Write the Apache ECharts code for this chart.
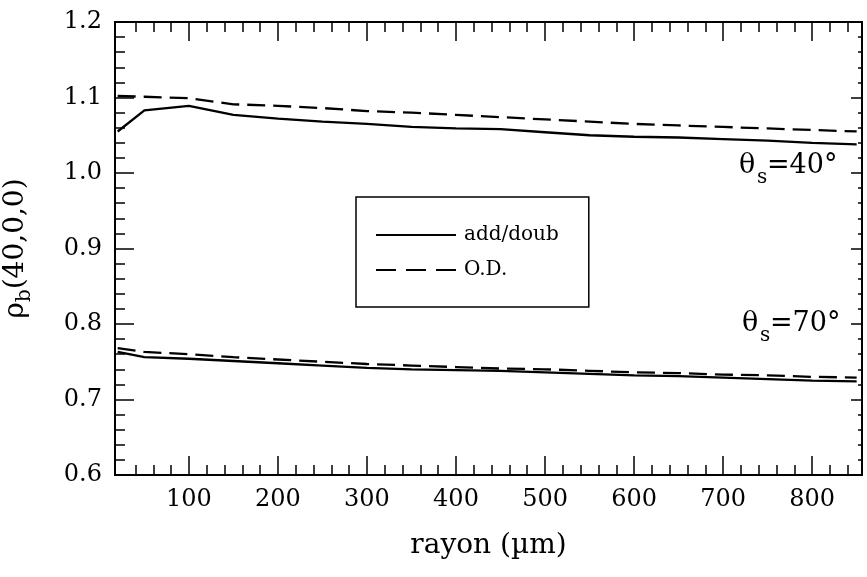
<!DOCTYPE html>
<html>
<head>
<meta charset="utf-8">
<script src="https://cdn.jsdelivr.net/npm/echarts@6/dist/echarts.min.js"></script>
<style>html,body{margin:0;padding:0;background:#fff}#c{width:867px;height:577px}</style>
</head>
<body>
<div id="c"></div>
<script>
// ---- data ----
var radius = [20, 50, 100, 150, 200, 250, 300, 350, 400, 450, 500, 550, 600, 650, 700, 750, 800, 850];
var addDoub40 = [1.055, 1.083, 1.089, 1.077, 1.072, 1.068, 1.065, 1.061, 1.059, 1.058, 1.054, 1.050, 1.048, 1.047, 1.045, 1.043, 1.040, 1.038];
var od40      = [1.102, 1.101, 1.099, 1.091, 1.089, 1.086, 1.082, 1.080, 1.077, 1.074, 1.071, 1.068, 1.065, 1.063, 1.061, 1.059, 1.057, 1.055];
var addDoub70 = [0.763, 0.756, 0.754, 0.751, 0.748, 0.745, 0.742, 0.740, 0.739, 0.738, 0.736, 0.734, 0.732, 0.731, 0.729, 0.727, 0.725, 0.724];
var od70      = [0.768, 0.763, 0.760, 0.756, 0.753, 0.750, 0.747, 0.745, 0.743, 0.741, 0.740, 0.738, 0.736, 0.735, 0.733, 0.732, 0.730, 0.729];
var xMajorTicks = [100, 200, 300, 400, 500, 600, 700, 800];
var xMinorTicks = [40, 60, 80, 120, 140, 160, 180, 220, 240, 260, 280, 320, 340, 360, 380, 420, 440, 460, 480,
                   520, 540, 560, 580, 620, 640, 660, 680, 720, 740, 760, 780, 820, 840];
var xMin = 17, xMax = 856;
var yMin = 0.6, yMax = 1.2, yStep = 0.1;
var nameAdd = 'add/doub', nameOD = 'O.D.';
var angleLabels = ['=40°', '=70°'];

function zip(xs, ys) { return xs.map(function (x, i) { return [x, ys[i]]; }); }

var FONT = 'DejaVu Serif';
var black = '#000';
var tickStyle = { color: black, width: 1.5 };
var lineW = 2.3;
var dash = [18, 8];

function xAx(pos, ticks, len, labels, extra) {
  var a = {
    type: 'value', position: pos, min: xMin, max: xMax,
    axisLine: { show: true, onZero: false, lineStyle: { color: black, width: 2 } },
    axisTick: { show: true, inside: true, length: len, customValues: ticks, lineStyle: tickStyle },
    axisLabel: labels ? { show: true, customValues: ticks, margin: 13, color: black, fontFamily: FONT, fontSize: 24 } : { show: false },
    splitLine: { show: false }
  };
  if (extra) for (var k in extra) a[k] = extra[k];
  return a;
}

var chart = echarts.init(document.getElementById('c'), null, { renderer: 'canvas' });
chart.setOption({
  animation: false,
  backgroundColor: '#fff',
  grid: { left: 115, right: 5, top: 22, bottom: 102, containLabel: false, outerBoundsMode: 'none' },
  xAxis: [
    xAx('bottom', xMajorTicks, 19, true, {
      name: 'rayon (µm)', nameLocation: 'middle', nameGap: 57,
      nameTextStyle: { color: black, fontFamily: FONT, fontSize: 28 }
    }),
    xAx('bottom', xMinorTicks, 10, false),
    xAx('top', xMajorTicks, 19, false),
    xAx('top', xMinorTicks, 10, false)
  ],
  yAxis: [
    {
      type: 'value', position: 'left', min: yMin, max: yMax, interval: yStep,
      axisLine: { show: true, onZero: false, lineStyle: { color: black, width: 2 } },
      axisTick: { show: true, inside: true, length: 19, lineStyle: tickStyle },
      minorTick: { show: true, splitNumber: 5, length: 10, lineStyle: tickStyle },
      axisLabel: { margin: 13, color: black, fontFamily: FONT, fontSize: 24, formatter: function (v) { return v.toFixed(1); } },
      splitLine: { show: false },
      name: '{a|ρ}{b|b}{a|(40,0,0)}', nameLocation: 'middle', nameRotate: 90, nameGap: 80,
      nameTextStyle: {
        color: black, fontFamily: FONT, fontSize: 28,
        rich: {
          a: { fontFamily: FONT, fontSize: 28, color: black, lineHeight: 38, verticalAlign: 'middle' },
          b: { fontFamily: FONT, fontSize: 20, color: black, lineHeight: 38, verticalAlign: 'bottom' }
        }
      }
    },
    {
      type: 'value', position: 'right', min: yMin, max: yMax, interval: yStep,
      axisLine: { show: true, onZero: false, lineStyle: { color: black, width: 2 } },
      axisTick: { show: true, inside: true, length: 11, lineStyle: tickStyle },
      minorTick: { show: true, splitNumber: 5, length: 4, lineStyle: tickStyle },
      axisLabel: { show: false },
      splitLine: { show: false }
    }
  ],
  legend: {
    show: true,
    orient: 'vertical', left: 356, top: 197,
    data: [{ name: nameAdd }, { name: nameOD, lineStyle: { type: [20, 10] } }],
    itemWidth: 80, itemHeight: 20, itemGap: 15,
    padding: [28, 30, 27, 19],
    borderColor: black, borderWidth: 1.5, borderRadius: 0,
    itemStyle: { opacity: 0 },
    textStyle: { color: black, fontFamily: FONT, fontSize: 20, padding: [0, 0, 0, 3] },
    selectedMode: false
  },
  series: [
    { name: nameAdd, type: 'line', data: zip(radius, addDoub40), symbol: 'none', lineStyle: { color: black, width: lineW }, itemStyle: { color: black } },
    { name: nameOD, type: 'line', data: zip(radius, od40), symbol: 'none', lineStyle: { color: black, width: lineW, type: dash }, itemStyle: { color: black } },
    { name: nameAdd, type: 'line', data: zip(radius, addDoub70), symbol: 'none', lineStyle: { color: black, width: lineW }, itemStyle: { color: black } },
    { name: nameOD, type: 'line', data: zip(radius, od70), symbol: 'none', lineStyle: { color: black, width: lineW, type: dash }, itemStyle: { color: black } }
  ],
  graphic: [
    { type: 'text', left: 739, top: 152, style: { text: 'θ', font: '27px "DejaVu Serif"', fill: black } },
    { type: 'text', left: 757, top: 168, style: { text: 's', font: '20px "DejaVu Serif"', fill: black } },
    { type: 'text', left: 767, top: 152, style: { text: angleLabels[0], font: '27px "DejaVu Serif"', fill: black } },
    { type: 'text', left: 742, top: 310, style: { text: 'θ', font: '27px "DejaVu Serif"', fill: black } },
    { type: 'text', left: 760, top: 326, style: { text: 's', font: '20px "DejaVu Serif"', fill: black } },
    { type: 'text', left: 770, top: 310, style: { text: angleLabels[1], font: '27px "DejaVu Serif"', fill: black } }
  ]
});
</script>
</body>
</html>
